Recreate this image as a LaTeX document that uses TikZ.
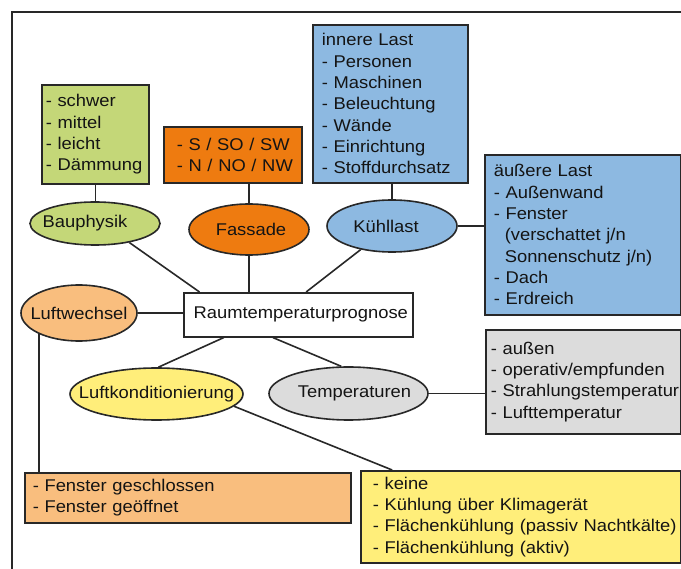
\documentclass[tikz,border=0pt]{standalone}
\usepackage{fontspec}
\setmainfont{Liberation Sans}[FakeStretch=1.08]
\usetikzlibrary{shapes.geometric,calc}
\definecolor{linec}{RGB}{40,40,40}
\definecolor{txtc}{RGB}{20,20,20}
\definecolor{cgreen}{HTML}{C4D778}
\definecolor{corange}{HTML}{EE7B10}
\definecolor{cblue}{HTML}{8DB9E1}
\definecolor{clorange}{HTML}{F9BE7E}
\definecolor{cyellow}{HTML}{FFEE7A}
\definecolor{cgray}{HTML}{DCDCDC}
\tikzset{
  txt/.style={font=\fontsize{17}{21.3}\selectfont, text=txtc},
  infobox/.style={txt, draw=linec, line width=1.6pt, rectangle, anchor=north west, align=left},
  ell/.style={txt, draw=linec, line width=1.6pt, ellipse, inner sep=0pt},
  conn/.style={draw=linec, line width=1.6pt},
  frameline/.style={draw=linec, line width=1.6pt},
}
\begin{document}
\begin{tikzpicture}[x=1pt,y=-1pt]
\useasboundingbox[fill=white] (0,0) rectangle (681,569);
\draw[frameline] (12,569) -- (12,12) -- (681,12);

% info boxes
\node[infobox, fill=cgreen, inner xsep=4pt, text width=99pt, minimum height=99pt] (grn) at (41,84)
  {- schwer\\- mittel\\- leicht\\- Dämmung};
\node[infobox, fill=corange, inner xsep=13pt, text width=112pt, minimum height=56pt] (orb) at (163,126)
  {\mbox{- S / SO / SW}\\\mbox{- N / NO / NW}};
\node[infobox, fill=cblue, inner xsep=9pt, text width=137pt, minimum height=158pt] (inn) at (312,24)
  {innere Last\\- Personen\\- Maschinen\\- Beleuchtung\\- Wände\\- Einrichtung\\- Stoffdurchsatz};
\node[infobox, fill=cblue, inner xsep=9pt, text width=178pt, minimum height=160pt] (aus) at (484,154)
  {äußere Last\\- Außenwand\\- Fenster\\\hspace*{11pt}(verschattet j/n\\\hspace*{11pt}\mbox{Sonnenschutz j/n)}\\- Dach\\- Erdreich};
\node[infobox, fill=cgray, inner xsep=5pt, text width=185pt, minimum height=104pt] (gr) at (485,329)
  {- außen\\\mbox{- operativ/empfunden}\\\mbox{- Strahlungstemperatur}\\- Lufttemperatur};
\node[infobox, fill=clorange, inner xsep=8pt, text width=310pt, minimum height=50pt] (fo) at (24,472)
  {- Fenster geschlossen\\- Fenster geöffnet};
\node[infobox, fill=cyellow, inner xsep=12pt, text width=296pt, minimum height=92pt] (yel) at (360,470)
  {- keine\\\mbox{- Kühlung über Klimagerät}\\\mbox{- Flächenkühlung (passiv Nachtkälte)}\\\mbox{- Flächenkühlung (aktiv)}};

% central box
\node[txt, draw=linec, line width=1.6pt, fill=white, anchor=north west, inner sep=0pt,
      minimum width=229pt, minimum height=44pt] (rt) at (183,292)
  {\makebox[0pt]{\hspace{5pt}Raumtemperaturprognose}};

% ellipses
\node[ell, fill=cgreen, minimum width=130pt, minimum height=43pt] (bau) at (95,223.5)
  {\makebox[0pt]{Bauphysik\hspace{20pt}}};
\node[ell, fill=corange, minimum width=120pt, minimum height=51pt] (fas) at (249,229.5)
  {\makebox[0pt]{\hspace{4pt}Fassade}};
\node[ell, fill=cblue, minimum width=130pt, minimum height=52pt] (kl) at (392,226)
  {\makebox[0pt]{Kühllast\hspace{12pt}}};
\node[ell, fill=clorange, minimum width=116pt, minimum height=56pt] (lw) at (79,313)
  {\makebox[0pt]{Luftwechsel}};
\node[ell, fill=cyellow, minimum width=173pt, minimum height=52pt] (lk) at (156.5,394)
  {\makebox[0pt]{Luftkonditionierung}};
\node[ell, fill=cgray, minimum width=159pt, minimum height=53pt] (tmp) at (348.5,393.5)
  {\makebox[0pt]{\hspace{12pt}Temperaturen}};

% connectors
\draw[conn] (grn.south) -- (grn.south |- bau.north);
\draw[conn] (fas.north) -- (fas.north |- orb.south);
\draw[conn] (kl.north) -- (kl.north |- inn.south);
\draw[conn] (kl.east) -- (kl.east -| aus.west);
\draw[conn] (bau.-29) -- (rt.167);
\draw[conn] (fas.south) -- (fas.south |- rt.north);
\draw[conn] (kl.217) -- (rt.71);
\draw[conn] (lw.east) -- (lw.east -| rt.west);
\draw[conn] (rt.197) -- (lk.86);
\draw[conn] (rt.222) -- (tmp.105);
\draw[conn] (tmp.east) -- (tmp.east -| gr.west);
\draw[conn] (lk.-9) -- (yel.160);
\draw[conn] (lw.208) -- (lw.208 |- fo.north);
\end{tikzpicture}
\end{document}
